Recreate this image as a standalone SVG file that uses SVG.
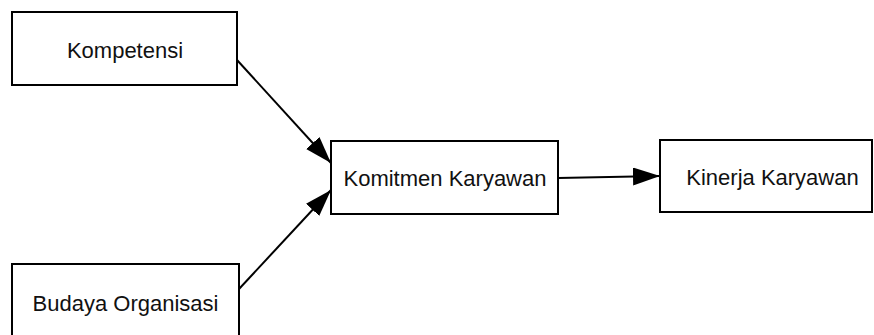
<svg xmlns="http://www.w3.org/2000/svg" width="874" height="335" viewBox="0 0 874 335">
<style>
.box{fill:#fff;stroke:#000;stroke-width:2}
.lbl{font-family:"Liberation Sans",Arial,sans-serif;font-size:22px;fill:#111;text-anchor:middle}
.edge{stroke:#000;stroke-width:2;fill:none}
</style>
<defs>
<marker id="arr" markerUnits="userSpaceOnUse" markerWidth="28" markerHeight="18" refX="27" refY="9" orient="auto">
<path d="M0,0 L27,9 L0,18 Z" fill="#000"/>
</marker>
</defs>
<rect width="874" height="335" fill="#fff"/>
<g id="kompetensi">
<rect class="box" x="12" y="12" width="225" height="73"/>
<text class="lbl" x="125" y="58">Kompetensi</text>
</g>
<g id="budaya">
<rect class="box" x="12" y="264" width="227" height="80"/>
<text class="lbl" x="125.5" y="311">Budaya Organisasi</text>
</g>
<g id="komitmen">
<rect class="box" x="331" y="141" width="227" height="73"/>
<text class="lbl" x="445" y="186">Komitmen Karyawan</text>
</g>
<g id="kinerja">
<rect class="box" x="660" y="140" width="212" height="72"/>
<text class="lbl" x="772.5" y="185">Kinerja Karyawan</text>
</g>
<g id="connectors">
<line class="edge" x1="237" y1="60" x2="331" y2="163" marker-end="url(#arr)"/>
<line class="edge" x1="239" y1="289" x2="331" y2="190" marker-end="url(#arr)"/>
<line class="edge" x1="558" y1="178" x2="660" y2="176" marker-end="url(#arr)"/>
</g>
</svg>
